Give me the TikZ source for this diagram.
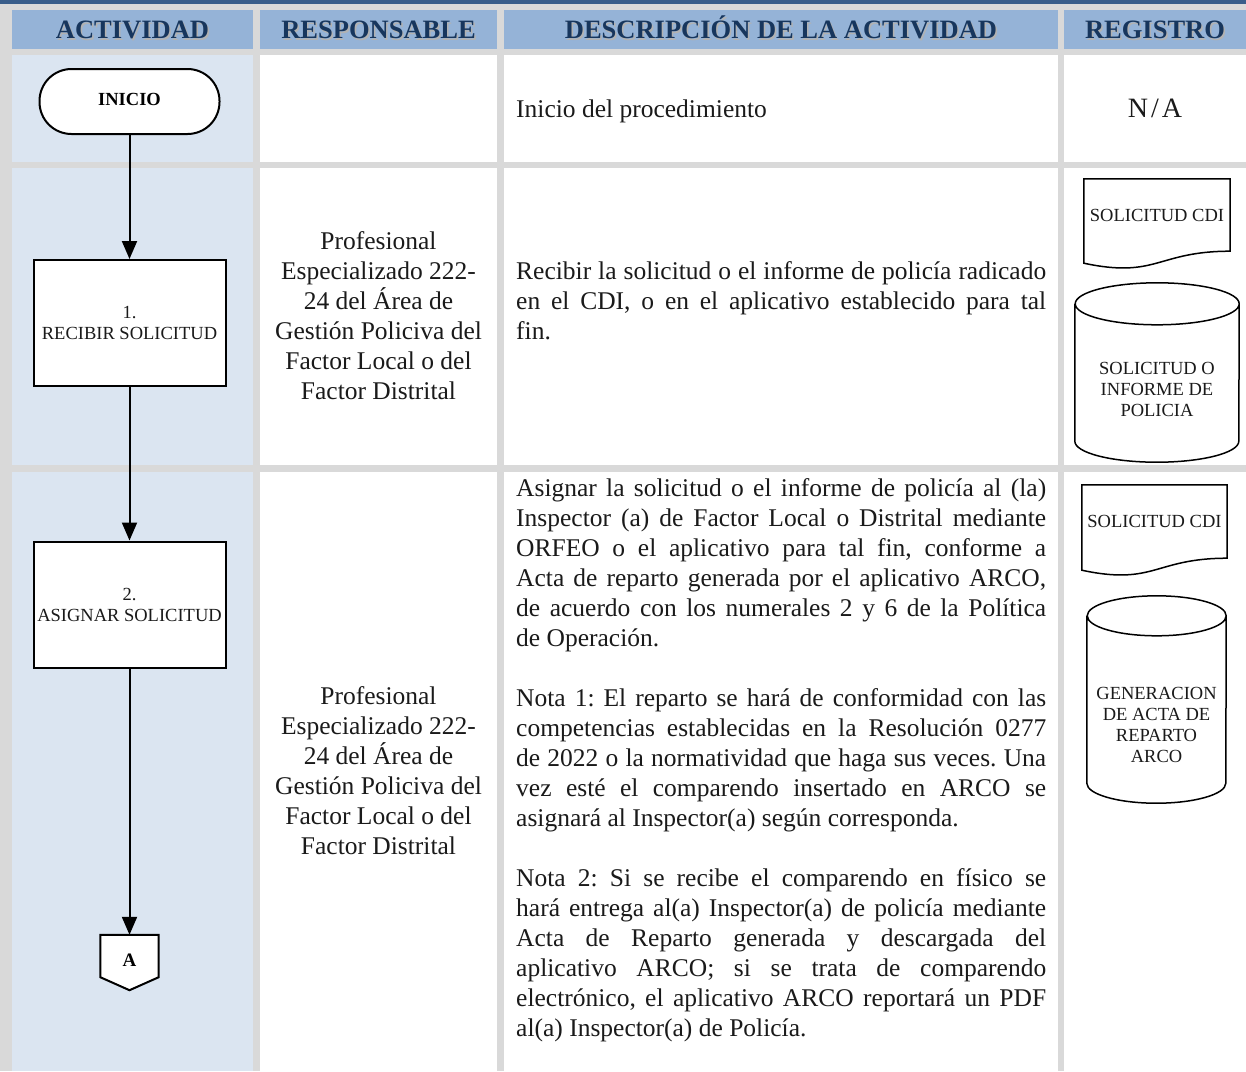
\documentclass[tikz,border=0pt]{standalone}
\usepackage{fontspec}
\setmainfont{Liberation Serif}
\usetikzlibrary{arrows.meta,calc}
\definecolor{gridgray}{HTML}{D9D9D9}
\definecolor{hdrfill}{HTML}{95B3D7}
\definecolor{actfill}{HTML}{DBE5F1}
\definecolor{hdrtext}{HTML}{17365D}
\definecolor{topline}{HTML}{385D8A}
\definecolor{bodytext}{HTML}{1A1A1A}
\pgfdeclarelayer{bg}
\pgfdeclarelayer{mid}
\pgfsetlayers{bg,mid,main}
\frenchspacing
\newcommand\shadowtxt[1]{\makebox[0pt][l]{\kern1.5pt\raisebox{-1.5pt}{\textcolor{black!30}{#1}}}#1}
\newcommand\loosepar{\tolerance 10000 \hbadness 10000 \frenchspacing\relax}
\newcommand\bodyfont{\fontsize{25.5}{30}\selectfont\loosepar}
\newcommand\regfont{\fontsize{18.5}{21}\selectfont}
\begin{document}
\begin{tikzpicture}[x=1pt,y=-1pt,
  hdr/.style={font=\fontsize{26.5}{30}\selectfont\bfseries, text=hdrtext, inner sep=0pt, anchor=base},
  body/.style={font=\bodyfont, text=bodytext, inner sep=0pt},
  smalltxt/.style={font=\regfont, text=bodytext},
  flowbox/.style={draw, line width=2pt, fill=white, minimum width=192pt, minimum height=126pt, align=center, font=\regfont, text=bodytext, inner sep=2pt},
  termbox/.style={draw, line width=2pt, fill=white, rounded corners=32pt, minimum width=180pt, minimum height=65pt, font=\fontsize{18.5}{20}\selectfont\bfseries},
  connbox/.style={minimum width=58pt, minimum height=55pt, inner sep=0pt, font=\fontsize{19}{20}\selectfont\bfseries},
  link/.style={line width=2pt, -{Triangle[width=15pt,length=18pt]}},
  regline/.style={line width=1.5pt},
  regbox/.style={smalltxt, inner sep=0pt, align=center},
]
\useasboundingbox (0,0) rectangle (1246,1071);
\begin{pgfonlayer}{bg}
  \fill[gridgray] (0,0) rectangle (1246,1071);
  \fill[topline] (0,0) rectangle (1246,4);
  % header
  \fill[hdrfill] (12,10) rectangle (253,49);
  \fill[hdrfill] (260,10) rectangle (497,49);
  \fill[hdrfill] (504,10) rectangle (1058,49);
  \fill[hdrfill] (1064,10) rectangle (1246,49);
  % row 1
  \fill[actfill] (12,55) rectangle (253,162);
  \fill[white] (260,55) rectangle (497,162);
  \fill[white] (504,55) rectangle (1058,162);
  \fill[white] (1064,55) rectangle (1246,162);
  % row 2
  \fill[actfill] (12,168) rectangle (253,465);
  \fill[white] (260,168) rectangle (497,465);
  \fill[white] (504,168) rectangle (1058,465);
  \fill[white] (1064,168) rectangle (1246,465);
  % row 3
  \fill[actfill] (12,472) rectangle (253,1071);
  \fill[white] (260,472) rectangle (497,1071);
  \fill[white] (504,472) rectangle (1058,1071);
  \fill[white] (1064,472) rectangle (1246,1071);
\end{pgfonlayer}

% header texts
\node[hdr] (h1) at (132.5,38.5) {\shadowtxt{ACTIVIDAD}};
\node[hdr] (h2) at (378.5,38.5) {\shadowtxt{RESPONSABLE}};
\node[hdr] (h3) at (781,38.5) {\shadowtxt{DESCRIPCIÓN DE LA ACTIVIDAD}};
\node[hdr] (h4) at (1155,38.5) {\shadowtxt{REGISTRO}};

% flowchart
\node[termbox] (start) at (129.5,101.5) {\raisebox{5pt}{INICIO}};
\node[flowbox] (box1) at (129.5,323) {1.\\RECIBIR SOLICITUD};
\node[flowbox] (box2) at (129.5,604.5) {2.\\ASIGNAR SOLICITUD};
\node[connbox] (A) at (129.5,962.5) {\raisebox{4pt}{A}};
\begin{pgfonlayer}{mid}
  \filldraw[line width=2pt, fill=white, line join=miter]
    (A.north west) -- (A.north east) -- ([yshift=13pt]A.south east)
    -- (A.south) -- ([yshift=13pt]A.south west) -- cycle;
\end{pgfonlayer}
\draw[link] (start) -- (box1);
\draw[link] (box1) -- (box2);
\draw[link] (box2) -- (A.north);

% responsible
\node[body, anchor=north, align=center] (resp2) at (378.5,231)
  {\rule{0pt}{18pt}Profesional\\Especializado 222-\\24 del Área de\\Gestión Policiva del\\Factor Local o del\\Factor Distrital};
\node[body, anchor=north, align=center] (resp3) at (378.5,686)
  {\rule{0pt}{18pt}Profesional\\Especializado 222-\\24 del Área de\\Gestión Policiva del\\Factor Local o del\\Factor Distrital};

% descriptions
\node[body, anchor=base west] (desc1) at (516,117) {Inicio del procedimiento};
\node[body, anchor=north west, text width=530pt, align=justify] (desc2) at (516,261)
  {\noindent\rule{0pt}{18pt}Recibir la solicitud o el informe de policía radicado\linebreak
   en el CDI, o en el aplicativo establecido para tal\linebreak
   fin.};
\node[body, anchor=north west, text width=530pt, align=justify] (desc3) at (516,478)
  {\noindent\rule{0pt}{18pt}Asignar la solicitud o el informe de policía al (la)\linebreak
   Inspector (a) de Factor Local o Distrital mediante\linebreak
   ORFEO o el aplicativo para tal fin, conforme a\linebreak
   Acta de reparto generada por el aplicativo ARCO,\linebreak
   de acuerdo con los numerales 2 y 6 de la Política\linebreak
   de Operación.\par\vspace{30pt}
   \noindent Nota 1: El reparto se hará de conformidad con las\linebreak
   competencias establecidas en la Resolución 0277\linebreak
   de 2022 o la normatividad que haga sus veces. Una\linebreak
   vez esté el comparendo insertado en ARCO se\linebreak
   asignará al Inspector(a) según corresponda.\par\vspace{30pt}
   \noindent Nota 2: Si se recibe el comparendo en físico se\linebreak
   hará entrega al(a) Inspector(a) de policía mediante\linebreak
   Acta de Reparto generada y descargada del\linebreak
   aplicativo ARCO; si se trata de comparendo\linebreak
   electrónico, el aplicativo ARCO reportará un PDF\linebreak
   al(a) Inspector(a) de Policía.};

% registers
\node[font=\fontsize{28}{30}\selectfont, text=bodytext, inner sep=0pt] (na) at (1155,108) {N\kern3pt/\kern3pt A};

\node[regbox, minimum width=146pt, minimum height=72pt] (doc1) at (1157,215) {SOLICITUD CDI};
\draw[regline] ([yshift=-12pt]doc1.south west) -- (doc1.north west) -- (doc1.north east)
  -- (doc1.south east) .. controls (doc1.south) and ([yshift=-27.6pt]doc1.south) .. ([yshift=-12pt]doc1.south west) -- cycle;

\node[minimum width=164pt, minimum height=158pt, inner sep=0pt,
  label={[name=cyl1txt, regbox, yshift=-6pt]center:SOLICITUD O\\INFORME DE\\POLICIA}] (cyl1) at (1157,383) {};
\draw[regline] (cyl1.north west) -- ([yshift=21pt]cyl1.south west)
  arc[start angle=180, end angle=360, x radius=82pt, y radius=21pt]
  -- (cyl1.north east)
  arc[start angle=0, end angle=180, x radius=82pt, y radius=21pt]
  arc[start angle=180, end angle=360, x radius=82pt, y radius=21pt];

\node[regbox, minimum width=145pt, minimum height=73pt] (doc2) at (1154.5,521.5) {SOLICITUD CDI};
\draw[regline] ([yshift=-12pt]doc2.south west) -- (doc2.north west) -- (doc2.north east)
  -- (doc2.south east) .. controls (doc2.south) and ([yshift=-27.6pt]doc2.south) .. ([yshift=-12pt]doc2.south west) -- cycle;

\node[minimum width=139pt, minimum height=187pt, inner sep=0pt,
  label={[name=cyl2txt, regbox, yshift=-15pt]center:GENERACION\\DE ACTA DE\\REPARTO\\ARCO}] (cyl2) at (1156.5,709.5) {};
\draw[regline] (cyl2.north west) -- ([yshift=20pt]cyl2.south west)
  arc[start angle=180, end angle=360, x radius=69.5pt, y radius=20pt]
  -- (cyl2.north east)
  arc[start angle=0, end angle=180, x radius=69.5pt, y radius=20pt]
  arc[start angle=180, end angle=360, x radius=69.5pt, y radius=20pt];
\end{tikzpicture}
\end{document}
